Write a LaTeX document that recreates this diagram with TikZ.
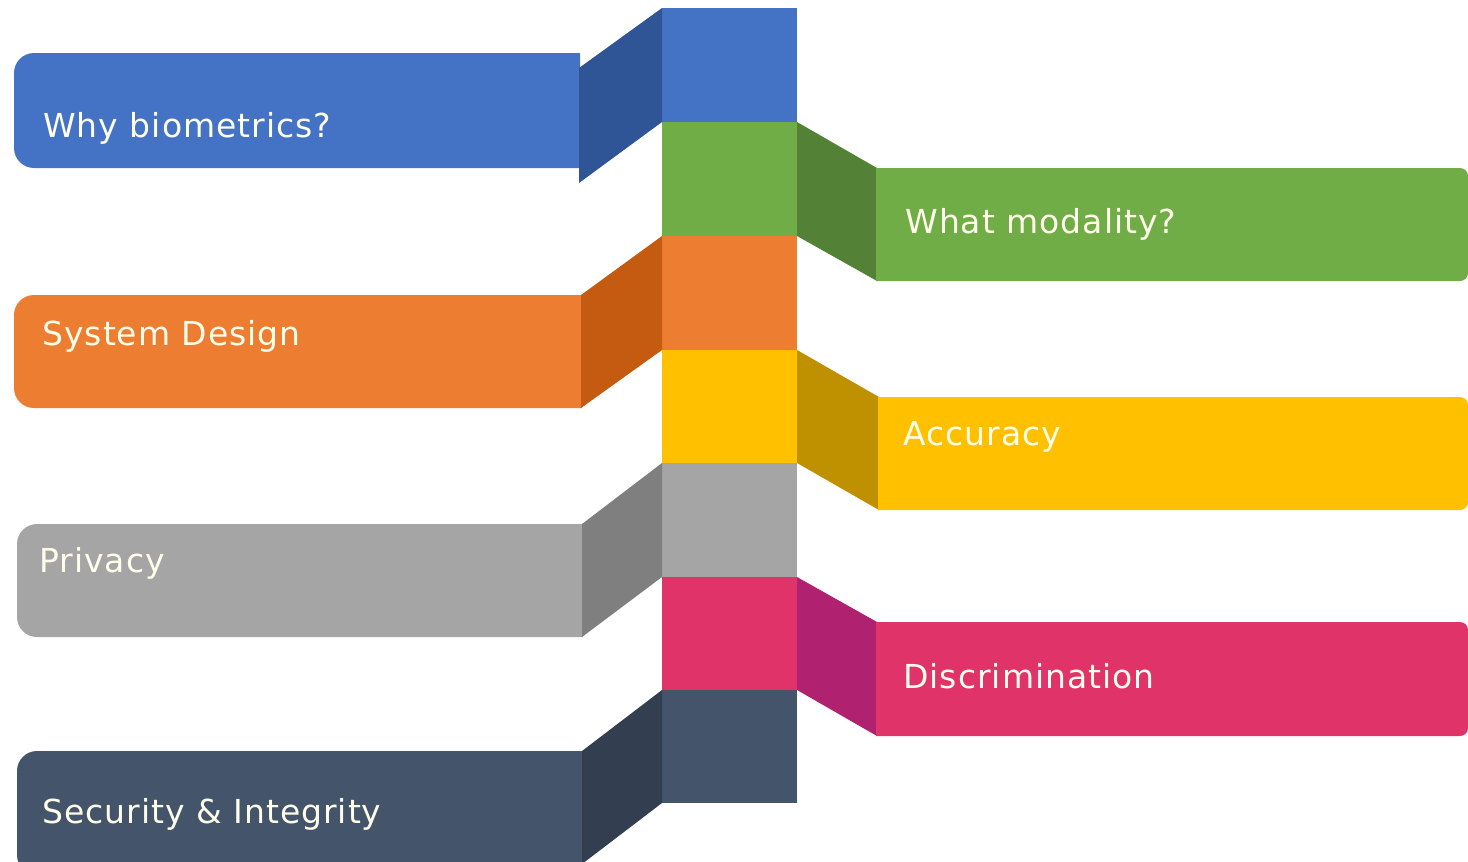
\documentclass[tikz,border=0pt]{standalone}
\usepackage{fontspec}
\setmainfont{DejaVu Sans}[LetterSpace=3]
\definecolor{whyblue}{HTML}{4472C4}
\definecolor{whybluedk}{HTML}{2F5597}
\definecolor{modgreen}{HTML}{70AD47}
\definecolor{modgreendk}{HTML}{538135}
\definecolor{sysorange}{HTML}{ED7D31}
\definecolor{sysorangedk}{HTML}{C55A11}
\definecolor{accyellow}{HTML}{FFC000}
\definecolor{accyellowdk}{HTML}{BF9000}
\definecolor{privgray}{HTML}{A5A5A5}
\definecolor{privgraydk}{HTML}{7F7F7F}
\definecolor{discpink}{HTML}{E0336A}
\definecolor{discpinkdk}{HTML}{B0226F}
\definecolor{secnavy}{HTML}{44546A}
\definecolor{secnavydk}{HTML}{333F50}

\begin{document}
\begin{tikzpicture}[x=0.5pt, y=-0.5pt,
    lbl/.style={anchor=base west, inner sep=0pt, text=white!92!yellow,
                font=\fontsize{16.5}{20}\selectfont}]
    \useasboundingbox (0,0) rectangle (1468,862);

    % centre column
    \fill[whyblue]   (662,8)   rectangle (797,122);
    \fill[modgreen]  (662,122) rectangle (797,236);
    \fill[sysorange] (662,236) rectangle (797,350);
    \fill[accyellow] (662,350) rectangle (797,463);
    \fill[privgray]  (662,463) rectangle (797,577);
    \fill[discpink]  (662,577) rectangle (797,690);
    \fill[secnavy]   (662,690) rectangle (797,803);

    % left ribbons
    \fill[whyblue, rounded corners=10] (580,53) -- (14,53) -- (14,168) -- (580,168);
    \fill[whybluedk] (579,68) -- (662,8) -- (662,122) -- (579,183) -- cycle;
    \fill[sysorange, rounded corners=10] (582,295) -- (14,295) -- (14,408) -- (582,408);
    \fill[sysorangedk] (581,295) -- (662,236) -- (662,350) -- (581,408) -- cycle;
    \fill[privgray, rounded corners=10] (583,524) -- (17,524) -- (17,637) -- (583,637);
    \fill[privgraydk] (582,524) -- (662,463) -- (662,577) -- (582,637) -- cycle;
    \fill[secnavy, rounded corners=10] (583,751) -- (17,751) -- (17,875) -- (583,875);
    \fill[secnavydk] (582,751) -- (662,690) -- (662,803) -- (582,864) -- cycle;

    % right ribbons
    \fill[modgreendk] (797,122) -- (877,168) -- (877,281) -- (797,236) -- cycle;
    \fill[modgreen, rounded corners=4] (876,168) -- (1468,168) -- (1468,281) -- (876,281);
    \fill[accyellowdk] (797,350) -- (879,397) -- (879,510) -- (797,463) -- cycle;
    \fill[accyellow, rounded corners=4] (878,397) -- (1468,397) -- (1468,510) -- (878,510);
    \fill[discpinkdk] (797,577) -- (877,622) -- (877,736) -- (797,690) -- cycle;
    \fill[discpink, rounded corners=4] (876,622) -- (1468,622) -- (1468,736) -- (876,736);

    % labels
    \node[lbl] (why) at (43,137) {Why biometrics?};
    \node[lbl] (modality) at (905,233) {What modality?};
    \node[lbl] (design) at (42,345) {System Design};
    \node[lbl] (accuracy) at (903,445) {Accuracy};
    \node[lbl] (privacy) at (39,572) {Privacy};
    \node[lbl] (discrim) at (903,688) {Discrimination};
    \node[lbl] (security) at (42,823) {Security \& Integrity};
\end{tikzpicture}
\end{document}
